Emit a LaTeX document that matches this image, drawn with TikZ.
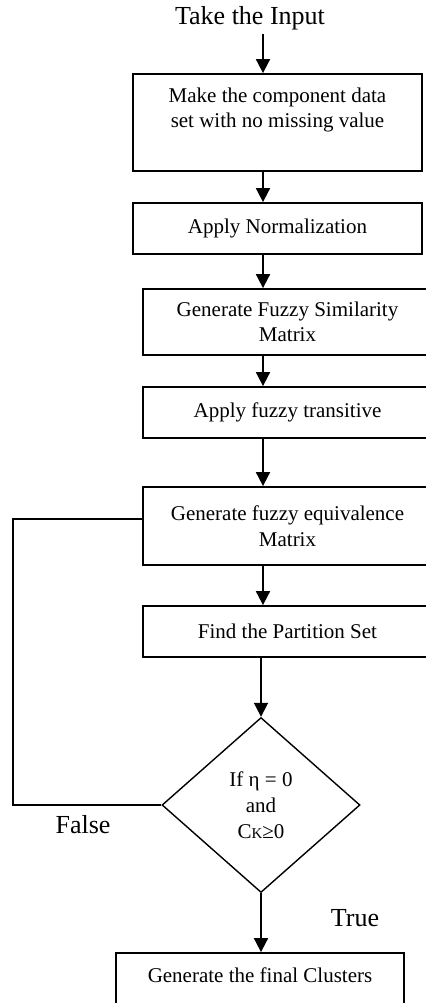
\documentclass[tikz,border=0pt]{standalone}
\usepackage{fontspec}
\setmainfont{Liberation Serif}
\usepackage{tikz}
\usetikzlibrary{arrows.meta,positioning,shapes.geometric,calc}
\tikzset{
  % flow boxes
  stepbox/.style={
    draw=black,
    line width=0.9pt,
    minimum width=144.5pt,
    inner sep=0pt,
    align=center,
    font=\fontsize{10.5}{12.8}\selectfont
  },
  % decision
  decision/.style={
    diamond,
    draw=black,
    line width=0.7pt,
    minimum width=99pt,
    minimum height=87.5pt,
    inner sep=0pt,
    align=center,
    font=\fontsize{10.5}{13}\selectfont
  },
  % outside labels
  lab/.style={font=\fontsize{13}{15}\selectfont, inner sep=0pt},
  % arrows
  arr/.style={-{Triangle[length=7pt,width=7pt]}, line width=0.9pt},
  line/.style={line width=0.9pt},
}
\begin{document}
\begin{tikzpicture}[x=0.5pt,y=-0.5pt]
        \useasboundingbox (0,0) rectangle (425,1003);
        \coordinate (spine) at (263,0);
        \coordinate (loop) at (13,0);

        % Title
        \node[lab] (input) at (250,18) {Take the Input};

        % Steps
        \node[stepbox, minimum height=48.5pt, text depth=14.8pt] (make) at (277.5,122.5)
            {Make the component data\\set with no missing value};
        \node[stepbox, minimum height=25.5pt] (norm) at (277.5,228.5) {Apply Normalization};
        \node[stepbox, minimum height=33pt] (sim) at (287.5,322)
            {Generate Fuzzy Similarity\\Matrix};
        \node[stepbox, minimum height=25.5pt] (trans) at (287.5,412.5) {Apply fuzzy transitive};
        \node[stepbox, minimum height=39pt] (equiv) at (287.5,526)
            {Generate fuzzy equivalence\\Matrix};
        \node[stepbox, minimum height=25.5pt] (part) at (287.5,631.5) {Find the Partition Set};

        % Decision
        \node[decision] (check) at (261,805)
            {If η = 0\\and\\C{\fontsize{7.5}{9}\selectfont K}≥0};

        % Result
        \node[stepbox, minimum width=144pt, minimum height=40pt, text depth=18.3pt] (final) at (260,993)
            {Generate the final Clusters};

        % Arrows
        \draw[arr] ([yshift=-2pt]input.south -| spine) -- (make.north -| spine);
        \draw[arr] (make.south -| spine) -- (norm.north -| spine);
        \draw[arr] (norm.south -| spine) -- (sim.north -| spine);
        \draw[arr] (sim.south -| spine) -- (trans.north -| spine);
        \draw[arr] (trans.south -| spine) -- (equiv.north -| spine);
        \draw[arr] (equiv.south -| spine) -- (part.north -| spine);
        \draw[arr] (part.south -| check) -- (check.north);
        \draw[arr] (check.south) -- (final.north -| check.south);

        % False loop
        \draw[line] (check.west) -- (check.west -| loop) |- ([yshift=3.5pt]equiv.west);

        % Labels
        \node[lab] (false) at (83,825) {False};
        \node[lab] (true) at (355,918) {True};
    \end{tikzpicture}
\end{document}
